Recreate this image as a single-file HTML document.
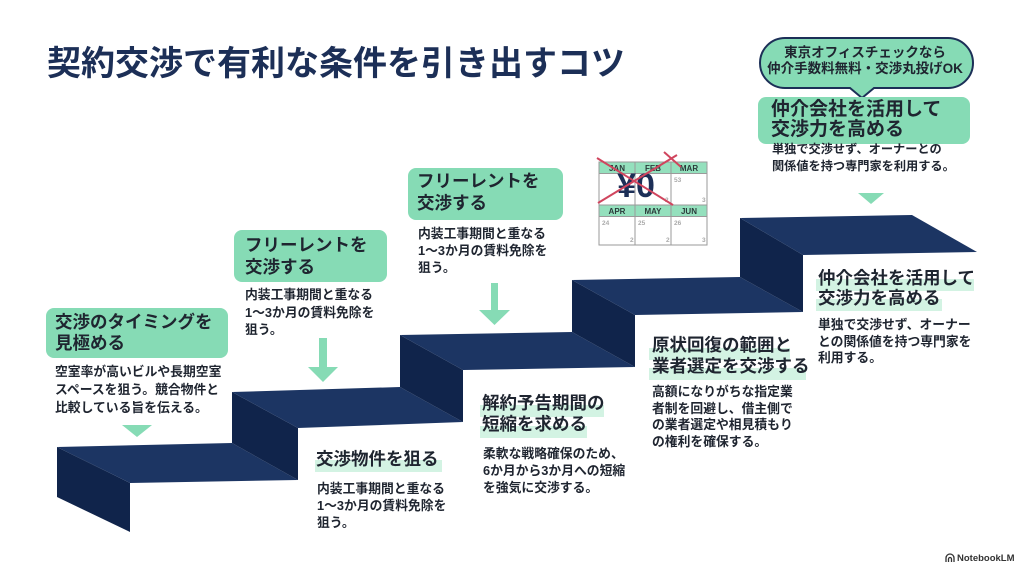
<!DOCTYPE html>
<html><head><meta charset="utf-8">
<style>
html,body{margin:0;padding:0;background:#fff;}
#c{position:relative;width:1024px;height:571px;overflow:hidden;background:#fff;font-family:"Liberation Sans","Noto Sans CJK JP",sans-serif;font-weight:700;color:#1f2530;}
.a{position:absolute;white-space:nowrap;}
.box{position:absolute;background:#86dbb5;border-radius:8px;}
.band{position:absolute;background:#d3f3e3;}
.h{font-size:17.5px;line-height:21px;color:#1f2530;}
.b{font-size:12.8px;line-height:17px;color:#1f2530;}
svg{position:absolute;left:0;top:0;}
</style></head><body><div id="c">

<svg width="1024" height="571" viewBox="0 0 1024 571">
  <!-- stairs -->
  <g>
    <polygon points="57,447 130,483 130,532 57,497" fill="#10244b"/>
    <polygon points="57,447 232,443 298,480 130,483" fill="#1c3563"/>
    <polygon points="232,392 298,428 298,480 232,443" fill="#10244b"/>
    <polygon points="232,392 400,387 463,422 298,428" fill="#1c3563"/>
    <polygon points="400,335 463,370 463,422 400,387" fill="#10244b"/>
    <polygon points="400,335 572,332 635,367 463,370" fill="#1c3563"/>
    <polygon points="572,280 635,315 635,367 572,332" fill="#10244b"/>
    <polygon points="572,280 740,277 803,312 635,315" fill="#1c3563"/>
    <polygon points="740,218 803,255 803,312 740,277" fill="#10244b"/>
    <polygon points="740,218 912,215 977,252 803,255" fill="#1c3563"/>
  </g>
  <!-- triangles / arrows -->
  <polygon points="122,425 152,425 137,437" fill="#86dbb5"/>
  <rect x="319" y="338" width="8" height="30" fill="#86dbb5"/>
  <polygon points="308,367 338,367 323,382" fill="#86dbb5"/>
  <rect x="491" y="283" width="7" height="28" fill="#86dbb5"/>
  <polygon points="479,310 510,310 494.5,325" fill="#86dbb5"/>
  <polygon points="858,193 884,193 871,204" fill="#86dbb5"/>
  <!-- speech bubble -->
  <path d="M785,38 H948 A25,25 0 0 1 948,88 H874 L862,98 L850,88 H785 A25,25 0 0 1 785,38 Z" fill="#86dbb5" stroke="#1c2f57" stroke-width="2"/>
  <!-- calendar -->
  <g>
    <rect x="599" y="162" width="108" height="83" fill="#fff" stroke="#9a9a9a" stroke-width="1"/>
    <rect x="599.5" y="162.5" width="107" height="11" fill="#94e0bd"/>
    <rect x="599.5" y="205" width="107" height="11" fill="#94e0bd"/>
    <line x1="599" y1="173.5" x2="707" y2="173.5" stroke="#9a9a9a"/>
    <line x1="599" y1="205" x2="707" y2="205" stroke="#9a9a9a"/>
    <line x1="599" y1="216.5" x2="707" y2="216.5" stroke="#9a9a9a"/>
    <line x1="635" y1="162" x2="635" y2="245" stroke="#9a9a9a"/>
    <line x1="671" y1="162" x2="671" y2="245" stroke="#9a9a9a"/>
    <g font-family="Liberation Sans, sans-serif" font-weight="700" font-size="8" fill="#2b3a3a" text-anchor="middle">
      <text x="617" y="171">JAN</text><text x="653" y="171">FEB</text><text x="689" y="171">MAR</text>
      <text x="617" y="214">APR</text><text x="653" y="214">MAY</text><text x="689" y="214">JUN</text>
    </g>
    <g font-family="Liberation Sans, sans-serif" font-size="6.5" fill="#aaa">
      <text x="674" y="182">53</text><text x="702" y="202">3</text><text x="665" y="202">2</text>
      <text x="602" y="225">24</text><text x="630" y="242">2</text>
      <text x="638" y="225">25</text><text x="666" y="242">2</text>
      <text x="674" y="225">26</text><text x="702" y="242">3</text>
    </g>
    <text x="636" y="197" font-family="Liberation Sans, sans-serif" font-weight="700" font-size="34" fill="#1c2f57" text-anchor="middle">¥0</text>
    <line x1="597" y1="158" x2="673" y2="205" stroke="#d0455e" stroke-width="2"/>
    <line x1="598" y1="203" x2="677" y2="155" stroke="#d0455e" stroke-width="2"/>
    <line x1="664" y1="152" x2="681" y2="167" stroke="#d0455e" stroke-width="2"/>
  </g>
  <!-- NotebookLM icon -->
  <g fill="none" stroke="#333" stroke-width="1.3">
    <path d="M946,562 V558 A4,4 0 0 1 954,558 V562"/>
    <path d="M948.5,562 V559 A1.5,1.5 0 0 1 951.5,559 V562"/>
  </g>
</svg>

<!-- title -->
<div class="a" style="left:47px;top:47px;font-size:34px;line-height:34px;color:#1c2f57;">契約交渉で有利な条件を引き出すコツ</div>

<!-- box 1 -->
<div class="box" style="left:46px;top:308px;width:182px;height:50px;"></div>
<div class="a h" style="left:55px;top:312px;">交渉のタイミングを<br>見極める</div>
<div class="a b" style="left:55px;top:363px;line-height:18px;">空室率が高いビルや長期空室<br>スペースを狙う。競合物件と<br>比較している旨を伝える。</div>

<!-- box 2 -->
<div class="box" style="left:234px;top:230px;width:153px;height:52px;"></div>
<div class="a h" style="left:245px;top:234px;line-height:22px;">フリーレントを<br>交渉する</div>
<div class="a b" style="left:245px;top:286px;line-height:17.5px;">内装工事期間と重なる<br>1〜3か月の賃料免除を<br>狙う。</div>

<!-- box 3 -->
<div class="box" style="left:408px;top:168px;width:155px;height:52px;"></div>
<div class="a h" style="left:417px;top:171px;line-height:21.5px;">フリーレントを<br>交渉する</div>
<div class="a b" style="left:418px;top:225px;">内装工事期間と重なる<br>1〜3か月の賃料免除を<br>狙う。</div>

<!-- bubble text -->
<div class="a" style="left:760px;width:210px;top:45px;font-size:13.5px;line-height:16px;text-align:center;color:#1f2530;">東京オフィスチェックなら<br>仲介手数料無料・交渉丸投げOK</div>

<!-- box 4 -->
<div class="box" style="left:758px;top:97px;width:212px;height:47px;"></div>
<div class="a" style="left:771px;top:100px;font-size:19px;line-height:20px;color:#1f2530;">仲介会社を活用して<br>交渉力を高める</div>
<div class="a" style="left:772px;top:141px;font-size:12.2px;line-height:17px;color:#1f2530;">単独で交渉せず、オーナーとの<br>関係値を持つ専門家を利用する。</div>

<!-- step texts -->
<div class="band" style="left:315px;top:460px;width:127px;height:12px;"></div>
<div class="a h" style="left:316px;top:449px;line-height:20px;">交渉物件を狙る</div>
<div class="a b" style="left:317px;top:480px;">内装工事期間と重なる<br>1〜3か月の賃料免除を<br>狙う。</div>

<div class="band" style="left:480px;top:405px;width:124px;height:12px;"></div>
<div class="band" style="left:480px;top:426px;width:107px;height:12px;"></div>
<div class="a h" style="left:482px;top:393px;">解約予告期間の<br>短縮を求める</div>
<div class="a b" style="left:483px;top:445px;">柔軟な戦略確保のため、<br>6か月から3か月への短縮<br>を強気に交渉する。</div>

<div class="band" style="left:649px;top:348px;width:141px;height:12px;"></div>
<div class="band" style="left:649px;top:368px;width:157px;height:12px;"></div>
<div class="a h" style="left:652px;top:335px;">原状回復の範囲と<br>業者選定を交渉する</div>
<div class="a b" style="left:652px;top:384px;line-height:16.7px;">高額になりがちな指定業<br>者制を回避し、借主側で<br>の業者選定や相見積もり<br>の権利を確保する。</div>

<div class="band" style="left:816px;top:279px;width:158px;height:12px;"></div>
<div class="band" style="left:816px;top:299px;width:126px;height:12px;"></div>
<div class="a h" style="left:818px;top:267.5px;line-height:20px;">仲介会社を活用して<br>交渉力を高める</div>
<div class="a b" style="left:818px;top:317px;line-height:16.5px;">単独で交渉せず、オーナー<br>との関係値を持つ専門家を<br>利用する。</div>

<!-- NotebookLM -->
<div class="a" style="left:957px;top:553px;font-size:9.5px;line-height:11px;color:#333;">NotebookLM</div>

</div></body></html>
